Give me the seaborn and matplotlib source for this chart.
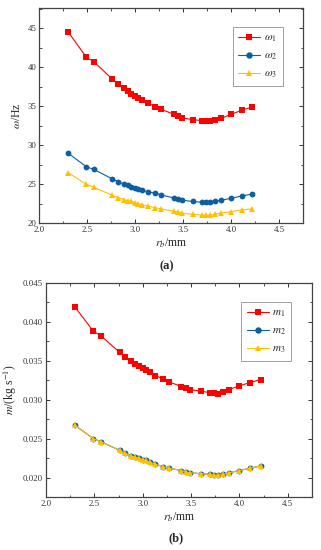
import numpy as np
import pandas as pd
import matplotlib
matplotlib.use("Agg")
import matplotlib.pyplot as plt
import seaborn as sns
from matplotlib.ticker import AutoMinorLocator, FormatStrFormatter, MultipleLocator

# ---- data ----
rb = [2.30, 2.49, 2.57, 2.76, 2.82, 2.88, 2.92, 2.96, 3.00, 3.03, 3.07, 3.13, 3.21,
      3.27, 3.40, 3.45, 3.49, 3.60, 3.70, 3.74, 3.78, 3.83, 3.89, 4.00, 4.11, 4.22]
omega1 = [44.55, 41.3, 40.7, 38.5, 37.85, 37.3, 36.9, 36.6, 36.35, 36.1, 35.8, 35.45, 34.95,
          34.6, 34.0, 33.7, 33.5, 33.3, 33.15, 33.1, 33.05, 33.2, 33.45, 33.95, 34.5, 34.9]
omega2 = [29.0, 27.25, 26.9, 25.7, 25.35, 25.05, 24.85, 24.7, 24.55, 24.4, 24.25, 24.05, 23.85,
          23.65, 23.25, 23.1, 22.95, 22.8, 22.7, 22.7, 22.7, 22.8, 22.95, 23.2, 23.5, 23.75]
omega3 = [26.5, 25.0, 24.6, 23.6, 23.3, 23.05, 22.9, 22.8, 22.65, 22.5, 22.4, 22.2, 22.0,
          21.85, 21.55, 21.45, 21.3, 21.15, 21.05, 21.05, 21.05, 21.15, 21.3, 21.5, 21.7, 21.85]
m1 = [0.0419, 0.0388, 0.0382, 0.0361, 0.0355, 0.0350, 0.0346, 0.0343, 0.0341, 0.0338, 0.0335,
      0.0331, 0.0327, 0.0323, 0.0317, 0.0315, 0.0313, 0.0311, 0.0309, 0.0309, 0.0308, 0.0310,
      0.0313, 0.0318, 0.0322, 0.0326]
m2 = [0.0267, 0.0250, 0.0246, 0.0235, 0.0231, 0.0228, 0.0226, 0.0225, 0.0223, 0.0222, 0.0220,
      0.0217, 0.0214, 0.0212, 0.0209, 0.0207, 0.0206, 0.0205, 0.0204, 0.0203, 0.0203, 0.0204,
      0.0206, 0.0209, 0.0212, 0.0215]
m3 = [0.0267, 0.0250, 0.0246, 0.0235, 0.0231, 0.0228, 0.0226, 0.0225, 0.0223, 0.0222, 0.0220,
      0.0217, 0.0214, 0.0212, 0.0209, 0.0207, 0.0206, 0.0205, 0.0204, 0.0203, 0.0203, 0.0204,
      0.0206, 0.0209, 0.0212, 0.0215]

labels_a = [r'$\omega_1$', r'$\omega_2$', r'$\omega_3$']
labels_b = [r'$m_1$', r'$m_2$', r'$m_3$']

sns.set_theme(style="ticks")
plt.rcParams['font.family'] = ['Liberation Serif', 'DejaVu Serif']
plt.rcParams['mathtext.fontset'] = 'stix'

RED = '#FF0000'
BLUE = '#0D5EA3'
YEL = '#FFC000'
colors = [RED, BLUE, YEL]
markers = ['s', 'o', '^']

fig = plt.figure(figsize=(3.21, 5.5), dpi=100)
axA = fig.add_axes([0.1224, 0.594, 0.8215, 0.3915])
axB = fig.add_axes([0.1433, 0.0964, 0.8287, 0.389])

def draw(ax, series, labels):
    for ys, lab, c, mk in zip(series, labels, colors, markers):
        sns.lineplot(x=rb, y=ys, ax=ax, color=c, marker=mk, markersize=4.2,
                     markeredgewidth=0, linewidth=0.8, label=lab, sort=False)

draw(axA, [omega1, omega2, omega3], labels_a)
draw(axB, [m1, m2, m3], labels_b)

for ax in (axA, axB):
    ax.set_xlim(2.0, 4.75)
    ax.xaxis.set_major_locator(MultipleLocator(0.5))
    ax.xaxis.set_major_formatter(FormatStrFormatter('%.1f'))
    ax.xaxis.set_minor_locator(AutoMinorLocator(2))
    ax.yaxis.set_minor_locator(AutoMinorLocator(2))
    ax.tick_params(which='both', direction='in', top=True, right=True,
                   color='#333333', labelsize=6.3, pad=2, labelcolor='#333333')
    ax.tick_params(which='major', length=3, width=0.7)
    ax.tick_params(which='minor', length=1.8, width=0.6)
    for sp in ax.spines.values():
        sp.set_color('#444444')
        sp.set_linewidth(0.9)
    ax.set_xlabel(r'$r_b$/mm', fontsize=8.5, labelpad=2)
    leg = ax.legend(loc='upper right', bbox_to_anchor=(0.935, 0.925), fontsize=8,
                    frameon=True, fancybox=False, edgecolor='#888888',
                    handlelength=2.0, labelspacing=0.6, borderpad=0.5,
                    handletextpad=0.3, markerscale=1.1, borderaxespad=0.3)
    leg.get_frame().set_linewidth(0.7)

axA.set_ylim(20, 47.6)
axA.yaxis.set_major_locator(MultipleLocator(5))
axA.set_ylabel(r'$\omega$/Hz', fontsize=8.5, labelpad=3)

axB.set_ylim(0.0175, 0.045)
axB.yaxis.set_major_locator(MultipleLocator(0.005))
axB.yaxis.set_major_formatter(FormatStrFormatter('%.3f'))
axB.set_ylabel(r'$m$/(kg s$^{-1}$)', fontsize=8.5, labelpad=3)

fig.text(0.52, 0.516, '(a)', ha='center', va='center', fontsize=9, fontweight='bold')
fig.text(0.55, 0.022, '(b)', ha='center', va='center', fontsize=9, fontweight='bold')

fig.savefig('out.png', dpi=100)
